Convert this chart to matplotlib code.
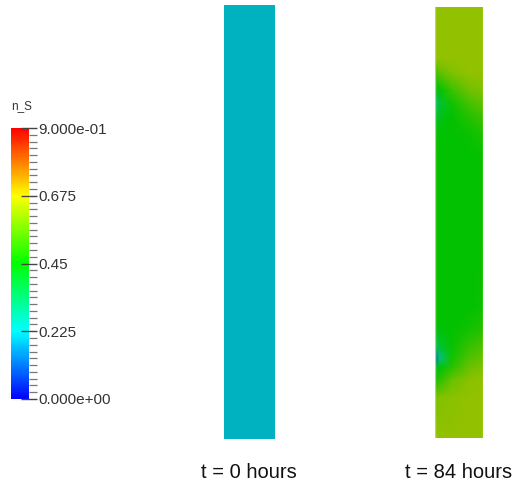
import numpy as np
import matplotlib
matplotlib.use("Agg")
import matplotlib.pyplot as plt
from matplotlib.colors import LinearSegmentedColormap, Normalize
from matplotlib.colorbar import ColorbarBase
from matplotlib.ticker import MultipleLocator

# ---- data ----
field_name = "n_S"
vmin, vmax = 0.0, 0.9
tick_values = [0.0, 0.225, 0.45, 0.675, 0.9]
tick_labels = ["0.000e+00", "0.225", "0.45", "0.675", "9.000e-01"]
panel_titles = ["t = 0 hours", "t = 84 hours"]

# t = 0: uniform field
field_t0 = 0.21

# t = 84: field sampled on a coarse grid (rows top->bottom, columns left->right)
grid_cols = [0.0, 0.1, 0.35, 0.7, 1.0]            # fraction of panel width
grid_rows = [0, 52, 66, 83, 96, 110, 128, 150,   # pixel offset from panel top
             300, 322, 340, 351, 361, 373, 390, 431]
field_t84 = [
    [0.62, 0.62, 0.62, 0.62, 0.62],
    [0.62, 0.62, 0.62, 0.62, 0.62],
    [0.50, 0.56, 0.60, 0.62, 0.62],
    [0.40, 0.45, 0.52, 0.58, 0.60],
    [0.30, 0.39, 0.47, 0.53, 0.56],
    [0.38, 0.42, 0.45, 0.49, 0.52],
    [0.44, 0.45, 0.45, 0.46, 0.48],
    [0.45, 0.45, 0.45, 0.45, 0.45],
    [0.45, 0.45, 0.45, 0.45, 0.46],
    [0.43, 0.44, 0.45, 0.47, 0.49],
    [0.33, 0.39, 0.46, 0.51, 0.54],
    [0.12, 0.30, 0.47, 0.54, 0.57],
    [0.40, 0.44, 0.50, 0.57, 0.60],
    [0.43, 0.50, 0.57, 0.61, 0.62],
    [0.59, 0.60, 0.61, 0.62, 0.62],
    [0.62, 0.62, 0.62, 0.62, 0.62],
]

# ---- styling ----
W, H = 517, 480
fig = plt.figure(figsize=(W / 100, H / 100), dpi=100)
fig.patch.set_facecolor("white")

rainbow = ["#0000ff", "#00ffff", "#00ff00", "#ffff00", "#ff0000"]
cmap_bar = LinearSegmentedColormap.from_list("rainbow", rainbow)
shade = 0.755
def dark(c):
    r, g, b = matplotlib.colors.to_rgb(c)
    return (r * shade, g * shade, b * shade)
cmap_panel = LinearSegmentedColormap.from_list("rainbow_lit", [dark(c) for c in rainbow])
norm = Normalize(vmin, vmax)

def px_axes(x0, y0, x1, y1):
    return fig.add_axes([x0 / W, 1 - y1 / H, (x1 - x0) / W, (y1 - y0) / H])

# colorbar
cax = px_axes(11, 128, 29, 399)
cb = ColorbarBase(cax, cmap=cmap_bar, norm=norm, orientation="vertical")
cb.outline.set_visible(False)
cb.set_ticks(tick_values, labels=tick_labels)
cax.yaxis.set_minor_locator(MultipleLocator(0.0225))
cax.tick_params(which="major", direction="inout", length=11.5, width=1.0,
                color="#444444", labelsize=11, labelcolor="#333333", pad=1)
cax.tick_params(which="minor", direction="out", length=5.8, width=0.9,
                color="#777777")
for lab in cax.get_yticklabels():
    lab.set_fontfamily("Liberation Sans")
fig.text(11 / W, 1 - 106 / H, field_name, fontsize=8.5, color="#333333",
         ha="left", va="center", family="Liberation Sans")

# panel t = 0
ax0 = px_axes(224, 5, 274, 439)
ax0.imshow([[field_t0]], cmap=cmap_panel, norm=norm, aspect="auto",
           extent=[0, 1, 0, 1])
ax0.set_xlim(0, 1); ax0.set_ylim(0, 1)
ax0.set_axis_off()

# panel t = 84
ax1 = px_axes(435, 7, 483, 438)
X, Y = np.meshgrid(grid_cols, grid_rows)
ax1.pcolormesh(X, Y, np.array(field_t84), cmap=cmap_panel, norm=norm,
               shading="gouraud")
ax1.set_xlim(0, 1); ax1.set_ylim(431, 0)
ax1.set_axis_off()
ax1.plot([0, 0], [0, 431], color="#b5dc3a", lw=1.0)
ax1.plot([1, 1], [0, 431], color="#b5dc3a", lw=1.0)

# labels
fig.text(249 / W, 1 - 472 / H, panel_titles[0], fontsize=14.5, ha="center",
         va="center", color="#111111", family="Liberation Sans")
fig.text(459 / W, 1 - 472 / H, panel_titles[1], fontsize=14.5, ha="center",
         va="center", color="#111111", family="Liberation Sans")

fig.savefig("out.png", dpi=100, facecolor="white")
